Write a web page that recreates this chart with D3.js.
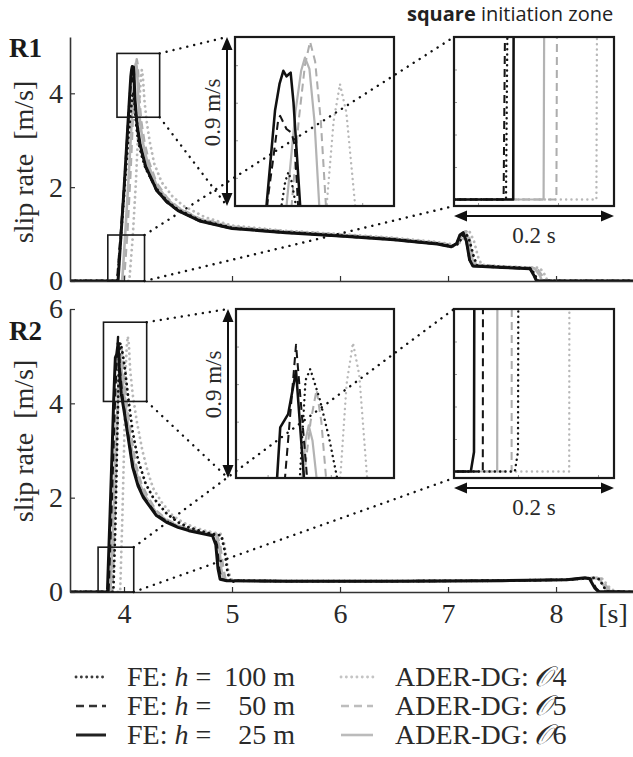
<!DOCTYPE html>
<html><head><meta charset="utf-8">
<script src="https://cdn.jsdelivr.net/npm/d3@7"></script>
<style>body{margin:0;background:#fff}svg{display:block}</style>
</head><body>
<svg id="c" width="633" height="757"></svg>
<script>
// ---------------- DATA ----------------
const xDomain = [3.5, 8.72];
const xTicks = [4, 5, 6, 7, 8];
const r1YDomain = [0, 5.2];
const r2YDomain = [0, 6];
const r1YTicks = [0, 2, 4];
const r2YTicks = [0, 2, 4, 6];
const seriesKeys = ["o4", "o5", "o6", "fe100", "fe50", "fe25"];
const legendLeft = [["fe100", "100 m"], ["fe50", "50 m"], ["fe25", "25 m"]];
const legendRight = [["o4", "4"], ["o5", "5"], ["o6", "6"]];

// R1 slip-rate series [time s, slip rate m/s]
const r1_fe25 = [[3.5,0],[3.944,0],[3.946,0.04],[3.97,0.9],[4.0,1.95],[4.03,3.1],[4.05,3.87],[4.063,4.36],[4.07,4.5],[4.076,4.57],[4.081,4.54],[4.084,4.55],[4.0875,4.56],[4.092,4.4],[4.1025,3.85],[4.12,3.35],[4.15,2.9],[4.2,2.45],[4.3,1.94],[4.4,1.68],[4.5,1.5],[4.7,1.28],[5.0,1.12],[5.5,1.03],[6.0,0.96],[6.5,0.88],[6.9,0.79],[7.03,0.73],[7.08,0.8],[7.11,0.98],[7.14,1.03],[7.17,0.85],[7.2,0.45],[7.23,0.32],[7.5,0.29],[7.76,0.26],[7.8,0.1],[7.82,0],[8.72,0]];
const r1_fe50 = [[3.5,0],[3.932,0],[3.937,0.03],[3.97,1.0],[4.0,1.95],[4.03,3.05],[4.052,3.9],[4.06,4.1],[4.068,4.31],[4.071,4.33],[4.081,4.26],[4.089,4.24],[4.094,4.17],[4.1,3.8],[4.12,3.3],[4.15,2.85],[4.2,2.42],[4.3,1.93],[4.4,1.67],[4.5,1.5],[4.7,1.28],[5.0,1.12],[5.5,1.03],[6.0,0.96],[6.5,0.88],[6.9,0.79],[7.03,0.73],[7.08,0.8],[7.11,0.97],[7.14,1.02],[7.17,0.85],[7.2,0.45],[7.23,0.32],[7.5,0.29],[7.76,0.26],[7.8,0.1],[7.825,0],[8.72,0]];
const r1_fe100 = [[3.5,0],[3.935,0],[3.94,0.03],[3.97,0.9],[4.0,1.8],[4.04,3.05],[4.073,3.85],[4.079,3.98],[4.084,4.03],[4.089,3.98],[4.096,3.85],[4.11,3.4],[4.13,3.0],[4.16,2.7],[4.2,2.4],[4.3,1.97],[4.4,1.7],[4.5,1.52],[4.7,1.3],[5.0,1.13],[5.5,1.04],[6.0,0.97],[6.5,0.89],[6.9,0.8],[7.05,0.74],[7.1,0.8],[7.14,0.98],[7.17,1.0],[7.2,0.85],[7.24,0.5],[7.27,0.33],[7.5,0.3],[7.77,0.27],[7.81,0.1],[7.835,0],[8.72,0]];
const r1_o6 = [[3.5,0],[3.982,0],[3.984,0.03],[4.01,0.95],[4.04,2.1],[4.06,2.95],[4.081,3.85],[4.095,4.35],[4.104,4.57],[4.11,4.64],[4.117,4.58],[4.125,4.3],[4.1325,3.85],[4.15,3.35],[4.18,2.9],[4.22,2.5],[4.3,2.05],[4.4,1.74],[4.5,1.55],[4.7,1.32],[5.0,1.15],[5.5,1.05],[6.0,0.98],[6.5,0.9],[6.9,0.81],[7.05,0.75],[7.1,0.82],[7.13,1.0],[7.16,1.06],[7.19,0.9],[7.22,0.5],[7.25,0.34],[7.5,0.3],[7.8,0.27],[7.85,0.12],[7.87,0],[8.72,0]];
const r1_o5 = [[3.5,0],[3.998,0],[4.0,0.03],[4.03,1.0],[4.06,2.3],[4.089,3.85],[4.1,4.3],[4.11,4.6],[4.118,4.725],[4.126,4.62],[4.135,4.3],[4.143,3.85],[4.16,3.4],[4.19,2.95],[4.23,2.55],[4.3,2.1],[4.4,1.77],[4.5,1.57],[4.7,1.33],[5.0,1.16],[5.5,1.06],[6.0,0.99],[6.5,0.91],[6.9,0.82],[7.06,0.76],[7.11,0.84],[7.14,1.0],[7.17,1.06],[7.2,0.9],[7.23,0.52],[7.26,0.35],[7.5,0.31],[7.82,0.28],[7.87,0.12],[7.89,0],[8.72,0]];
const r1_o4 = [[3.5,0],[4.048,0],[4.05,0.03],[4.08,0.9],[4.11,2.1],[4.144,3.85],[4.155,4.3],[4.165,4.5],[4.175,4.35],[4.189,3.85],[4.21,3.4],[4.24,2.95],[4.28,2.5],[4.35,2.1],[4.45,1.8],[4.55,1.6],[4.75,1.36],[5.0,1.18],[5.5,1.07],[6.0,1.0],[6.5,0.92],[6.9,0.83],[7.08,0.77],[7.13,0.86],[7.17,1.02],[7.2,1.05],[7.24,0.85],[7.28,0.5],[7.31,0.35],[7.5,0.31],[7.85,0.28],[7.9,0.12],[7.92,0],[8.72,0]];

// R2 slip-rate series
const r2_fe25 = [[3.5,0],[3.841,0],[3.845,0.0012],[3.847,0.05],[3.87,1.6],[3.89,3.0],[3.905,4.1],[3.915,4.7],[3.92,4.97],[3.9325,5.04],[3.945,5.27],[3.9575,4.7],[3.975,4.2],[4.0,3.85],[4.03,3.4],[4.08,2.65],[4.13,2.25],[4.18,2.0],[4.3,1.62],[4.4,1.47],[4.5,1.37],[4.6,1.3],[4.7,1.25],[4.82,1.19],[4.85,1.0],[4.87,0.5],[4.89,0.27],[4.95,0.24],[5.5,0.23],[6.5,0.23],[7.5,0.24],[8.1,0.26],[8.27,0.3],[8.31,0.28],[8.36,0.08],[8.39,0.01],[8.72,0]];
const r2_fe50 = [[3.5,0],[3.856,0],[3.857,0.05],[3.88,1.5],[3.9,2.9],[3.915,4.0],[3.9275,4.7],[3.945,5.41],[3.9625,4.7],[3.98,4.25],[4.0,3.9],[4.03,3.45],[4.08,2.7],[4.13,2.28],[4.18,2.02],[4.3,1.64],[4.4,1.49],[4.5,1.38],[4.6,1.31],[4.7,1.26],[4.83,1.2],[4.86,1.0],[4.88,0.5],[4.9,0.27],[4.96,0.24],[5.5,0.23],[6.5,0.23],[7.5,0.24],[8.1,0.26],[8.28,0.3],[8.32,0.28],[8.37,0.08],[8.4,0.01],[8.72,0]];
const r2_fe100 = [[3.5,0],[3.896,0],[3.9,0.0012],[3.902,0.05],[3.92,1.4],[3.935,3.0],[3.951,4.7],[3.96,5.22],[3.9675,5.28],[3.9825,5.12],[3.9975,4.91],[4.01,4.7],[4.04,4.1],[4.08,3.4],[4.13,2.8],[4.2,2.3],[4.27,2.0],[4.4,1.65],[4.5,1.48],[4.6,1.37],[4.7,1.3],[4.8,1.24],[4.9,1.2],[4.93,0.9],[4.96,0.4],[4.99,0.2],[5.03,0.24],[5.5,0.23],[6.5,0.23],[7.5,0.24],[8.1,0.26],[8.35,0.3],[8.4,0.27],[8.45,0.08],[8.48,0.01],[8.72,0]];
const r2_o6 = [[3.5,0],[3.874,0],[3.875,0.05],[3.9,1.5],[3.925,3.2],[3.955,4.7],[3.96,4.9],[3.965,4.98],[3.971,4.9],[3.9775,4.7],[4.0,4.2],[4.04,3.5],[4.09,2.75],[4.14,2.32],[4.2,2.02],[4.3,1.68],[4.4,1.51],[4.5,1.4],[4.6,1.33],[4.7,1.27],[4.85,1.21],[4.88,1.0],[4.9,0.5],[4.92,0.27],[4.98,0.24],[5.5,0.23],[6.5,0.23],[7.5,0.24],[8.1,0.26],[8.35,0.3],[8.4,0.28],[8.46,0.08],[8.5,0.01],[8.72,0]];
const r2_o5 = [[3.5,0],[3.892,0],[3.893,0.05],[3.915,1.6],[3.935,3.3],[3.9575,4.7],[3.968,5.0],[3.9775,5.17],[3.985,5.0],[3.9925,4.7],[4.02,4.1],[4.06,3.4],[4.11,2.7],[4.16,2.3],[4.22,2.02],[4.3,1.72],[4.4,1.53],[4.5,1.41],[4.6,1.34],[4.7,1.28],[4.86,1.22],[4.89,1.0],[4.92,0.5],[4.94,0.27],[5.0,0.24],[5.5,0.23],[6.5,0.23],[7.5,0.24],[8.1,0.26],[8.37,0.3],[8.42,0.28],[8.48,0.08],[8.52,0.01],[8.72,0]];
const r2_o4 = [[3.5,0],[3.964,0],[3.965,0.05],[3.985,1.6],[4.0,3.0],[4.015,4.7],[4.025,5.2],[4.035,5.42],[4.045,5.25],[4.0575,4.7],[4.08,4.2],[4.12,3.6],[4.17,3.0],[4.22,2.55],[4.27,2.2],[4.35,1.9],[4.45,1.62],[4.55,1.47],[4.65,1.37],[4.75,1.3],[4.9,1.23],[4.93,1.0],[4.96,0.5],[4.99,0.27],[5.04,0.24],[5.5,0.23],[6.5,0.23],[7.5,0.24],[8.1,0.26],[8.38,0.3],[8.43,0.28],[8.5,0.08],[8.55,0.01],[8.72,0]];

// zoom windows (data units): [tMin, tMax], [vMin, vMax]
const r1PeakBox = [[3.935, 4.33], [3.49, 4.85]];
const r1InitBox = [[3.85, 4.19], [0, 0.98]];
const r2PeakBox = [[3.81, 4.21], [4.04, 5.72]];
const r2InitBox = [[3.76, 4.09], [0, 0.95]];
const r1PeakInset = [[4.0, 4.25], [3.85, 4.75]];
const r1InitInset = [[3.87, 4.07], [-0.0004, 0.01]];
const r2PeakInset = [[3.85, 4.10], [4.7, 5.6]];
const r2InitInset = [[3.82, 4.02], [-0.0004, 0.01]];

// ---------------- STYLE ----------------
const styles = {
  fe100: {stroke: "#151515", dash: "0.1 5.2", width: 2.8, cap: "round"},
  fe50:  {stroke: "#151515", dash: "8 5", width: 2.4, cap: "butt"},
  fe25:  {stroke: "#111111", dash: null, width: 3.0, cap: "round"},
  o4:    {stroke: "#b8b8b8", dash: "0.1 5.2", width: 2.8, cap: "round"},
  o5:    {stroke: "#adadad", dash: "8 5", width: 2.4, cap: "butt"},
  o6:    {stroke: "#b3b3b3", dash: null, width: 2.6, cap: "round"}
};
const serif = "'Liberation Serif','Times New Roman',serif";
const ink = "#2a2a2a";

const svg = d3.select("#c");
const x = d3.scaleLinear().domain(xDomain).range([70, 633.8]);

const panels = [
  {id: "r1", label: "R1", labelY: 57, y: d3.scaleLinear().domain(r1YDomain).range([281, 37]),
   yTicks: r1YTicks, showX: false, ylabelY: 162,
   data: {fe25: r1_fe25, fe50: r1_fe50, fe100: r1_fe100, o6: r1_o6, o5: r1_o5, o4: r1_o4},
   peakBox: r1PeakBox, initBox: r1InitBox,
   peak: {rect: [235, 37, 394, 206], dom: r1PeakInset},
   init: {rect: [454, 37, 614, 206], dom: r1InitInset}},
  {id: "r2", label: "R2", labelY: 340, y: d3.scaleLinear().domain(r2YDomain).range([592, 309]),
   yTicks: r2YTicks, showX: true, ylabelY: 441,
   data: {fe25: r2_fe25, fe50: r2_fe50, fe100: r2_fe100, o6: r2_o6, o5: r2_o5, o4: r2_o4},
   peakBox: r2PeakBox, initBox: r2InitBox,
   peak: {rect: [236, 309, 394, 478], dom: r2PeakInset},
   init: {rect: [454, 309, 614, 478], dom: r2InitInset}}
];

const defs = svg.append("defs");

function drawSeries(g, p, xs, ys, scaleW) {
  seriesKeys.forEach(k => {
    const s = styles[k];
    const line = d3.line().x(d => xs(d[0])).y(d => ys(d[1]));
    g.append("path").datum(p.data[k]).attr("d", line)
      .attr("fill", "none").attr("stroke", s.stroke)
      .attr("stroke-width", s.width * scaleW)
      .attr("stroke-dasharray", s.dash)
      .attr("stroke-linecap", s.cap).attr("stroke-linejoin", "round");
  });
}

function dotted(x1, y1, x2, y2) {
  svg.append("line").attr("x1", x1).attr("y1", y1).attr("x2", x2).attr("y2", y2)
    .attr("stroke", "#111").attr("stroke-width", 2.4)
    .attr("stroke-dasharray", "0.1 7").attr("stroke-linecap", "round");
}

panels.forEach(p => {
  const y = p.y;
  const [x0, x1] = x.range();
  const yb = y.range()[0], yt = y.range()[1];

  defs.append("clipPath").attr("id", "clip-" + p.id).append("rect")
    .attr("x", x0).attr("y", yt - 4).attr("width", x1 - x0).attr("height", yb - yt + 5);

  const g = svg.append("g").attr("clip-path", `url(#clip-${p.id})`);
  drawSeries(g, p, x, y, 1);

  const ay = svg.append("g").attr("transform", `translate(${x0},0)`)
    .call(d3.axisLeft(y).tickValues(p.yTicks).tickSize(-5).tickSizeOuter(0).tickPadding(7)
      .tickFormat(d3.format("d")));
  const ax = svg.append("g").attr("transform", `translate(0,${yb})`)
    .call(d3.axisBottom(x).tickValues(xTicks).tickSize(-5).tickSizeOuter(0).tickPadding(11)
      .tickFormat(p.showX ? d3.format("d") : () => ""));
  [ay, ax].forEach(a => {
    a.attr("font-family", serif).attr("font-size", 28);
    a.select(".domain").attr("stroke", "#333").attr("stroke-width", 1.6);
    a.selectAll(".tick line").attr("stroke", "#333").attr("stroke-width", 1.2);
    a.selectAll("text").style("font-family", serif).style("font-size", "28px").attr("fill", ink);
  });

  svg.append("text").attr("transform", `translate(33,${p.ylabelY}) rotate(-90)`)
    .attr("text-anchor", "middle").style("font-family", serif).style("font-size", "28px").attr("fill", ink)
    .text("slip rate\u00a0\u00a0[m/s]");
  svg.append("text").attr("x", 9).attr("y", p.labelY).style("font-family", serif)
    .attr("font-weight", "bold").style("font-size", "27px").attr("fill", "#1a1a1a").text(p.label);

  const boxes = [p.peakBox, p.initBox].map(b => ({
    l: x(b[0][0]), r: x(b[0][1]), t: y(b[1][1]), b: y(b[1][0])}));
  boxes.forEach(b => svg.append("rect").attr("x", b.l).attr("y", b.t)
    .attr("width", b.r - b.l).attr("height", b.b - b.t)
    .attr("fill", "none").attr("stroke", "#1a1a1a").attr("stroke-width", 1.6));

  [p.peak, p.init].forEach((ins, i) => {
    const [L, T, R, B] = ins.rect;
    const xs = d3.scaleLinear().domain(ins.dom[0]).range([L, R]);
    const ys = d3.scaleLinear().domain(ins.dom[1]).range([B, T]);
    const cid = `clip-${p.id}-in${i}`;
    defs.append("clipPath").attr("id", cid).append("rect")
      .attr("x", L).attr("y", T).attr("width", R - L).attr("height", B - T);
    svg.append("rect").attr("x", L).attr("y", T).attr("width", R - L).attr("height", B - T).attr("fill", "#fff");
    const gi = svg.append("g").attr("clip-path", `url(#${cid})`);
    const tl = gi.append("g").attr("transform", `translate(${L},0)`)
      .call(d3.axisLeft(ys).ticks(5).tickSize(-3).tickFormat(() => ""));
    const tb = gi.append("g").attr("transform", `translate(0,${B})`)
      .call(d3.axisBottom(xs).ticks(2).tickSize(-3).tickFormat(() => ""));
    [tl, tb].forEach(a => { a.select(".domain").remove(); a.selectAll("line").attr("stroke", "#999"); });
    drawSeries(gi, p, xs, ys, 0.85);
    svg.append("rect").attr("x", L).attr("y", T).attr("width", R - L).attr("height", B - T)
      .attr("fill", "none").attr("stroke", "#1a1a1a").attr("stroke-width", 2.2);
  });

  const pb = boxes[0], ib = boxes[1];
  const arrowX = p.peak.rect[0] - 8;
  dotted(pb.r, pb.t, arrowX, p.peak.rect[1]);
  dotted(pb.r, pb.b, arrowX, p.peak.rect[3]);
  dotted(ib.r, ib.t, p.init.rect[0], p.init.rect[1]);
  dotted(ib.r, ib.b, p.init.rect[0], p.init.rect[3]);

  const aT = p.peak.rect[1], aB = p.peak.rect[3];
  svg.append("line").attr("x1", arrowX).attr("x2", arrowX).attr("y1", aT + 8).attr("y2", aB - 8)
    .attr("stroke", "#111").attr("stroke-width", 2);
  svg.append("path").attr("d", `M${arrowX},${aT} l-5.5,13 l11,0 Z M${arrowX},${aB} l-5.5,-13 l11,0 Z`).attr("fill", "#111");
  svg.append("text").attr("transform", `translate(${arrowX - 7},${(aT + aB) / 2 - 9}) rotate(-90)`)
    .attr("text-anchor", "middle").style("font-family", serif).style("font-size", "23px").attr("fill", ink)
    .text("0.9 m/s");

  const hL = p.init.rect[0], hR = p.init.rect[2], hy = p.init.rect[3] + 10;
  svg.append("line").attr("x1", hL + 8).attr("x2", hR - 8).attr("y1", hy).attr("y2", hy)
    .attr("stroke", "#111").attr("stroke-width", 2);
  svg.append("path").attr("d", `M${hL},${hy} l13,-5.5 l0,11 Z M${hR},${hy} l-13,-5.5 l0,11 Z`).attr("fill", "#111");
  svg.append("text").attr("x", (hL + hR) / 2).attr("y", hy + 27).attr("text-anchor", "middle")
    .style("font-family", serif).style("font-size", "23px").attr("fill", ink).text("0.2 s");
});

svg.append("text").attr("x", 613).attr("y", 623).attr("text-anchor", "middle")
  .style("font-family", serif).style("font-size", "28px").attr("fill", ink).text("[s]");

const tt = svg.append("text").attr("x", 407).attr("y", 21).style("font-family", "'Open Sans',sans-serif")
  .style("font-size", "20px").attr("fill", "#222");
tt.append("tspan").attr("font-weight", "bold").text("square");
tt.append("tspan").text(" initiation zone");

// legend
const rowsY = [686, 715, 744];
const legColor = {fe100: "#3a3a3a", fe50: "#333", fe25: "#222", o4: "#c4c4c4", o5: "#bdbdbd", o6: "#bbbbbb"};
function sample(k, x1, x2, yy) {
  const s = styles[k];
  svg.append("line").attr("x1", x1).attr("x2", x2).attr("y1", yy).attr("y2", yy)
    .attr("stroke", legColor[k]).attr("stroke-width", s.width)
    .attr("stroke-dasharray", s.dash).attr("stroke-linecap", s.dash && s.cap === "round" ? "round" : "butt");
}
legendLeft.forEach((d, i) => {
  const yy = rowsY[i];
  sample(d[0], 76, 106, yy - 9);
  const t = svg.append("text").attr("x", 127).attr("y", yy).style("font-family", serif)
    .style("font-size", "28px").attr("fill", ink);
  t.append("tspan").text("FE: ");
  t.append("tspan").attr("font-style", "italic").text("h");
  t.append("tspan").text(" =");
  svg.append("text").attr("x", 295).attr("y", yy).attr("text-anchor", "end").style("font-family", serif)
    .style("font-size", "28px").attr("fill", ink).text(d[1]);
});
legendRight.forEach((d, i) => {
  const yy = rowsY[i];
  sample(d[0], 341, 373, yy - 9);
  const t = svg.append("text").attr("x", 395).attr("y", yy).style("font-family", serif)
    .style("font-size", "28px").attr("fill", ink);
  t.append("tspan").text("ADER-DG:\u2009");
  t.append("tspan").attr("font-style", "italic").text("\uD835\uDCAA");
  t.append("tspan").text(d[1]);
});
</script>
</body></html>
